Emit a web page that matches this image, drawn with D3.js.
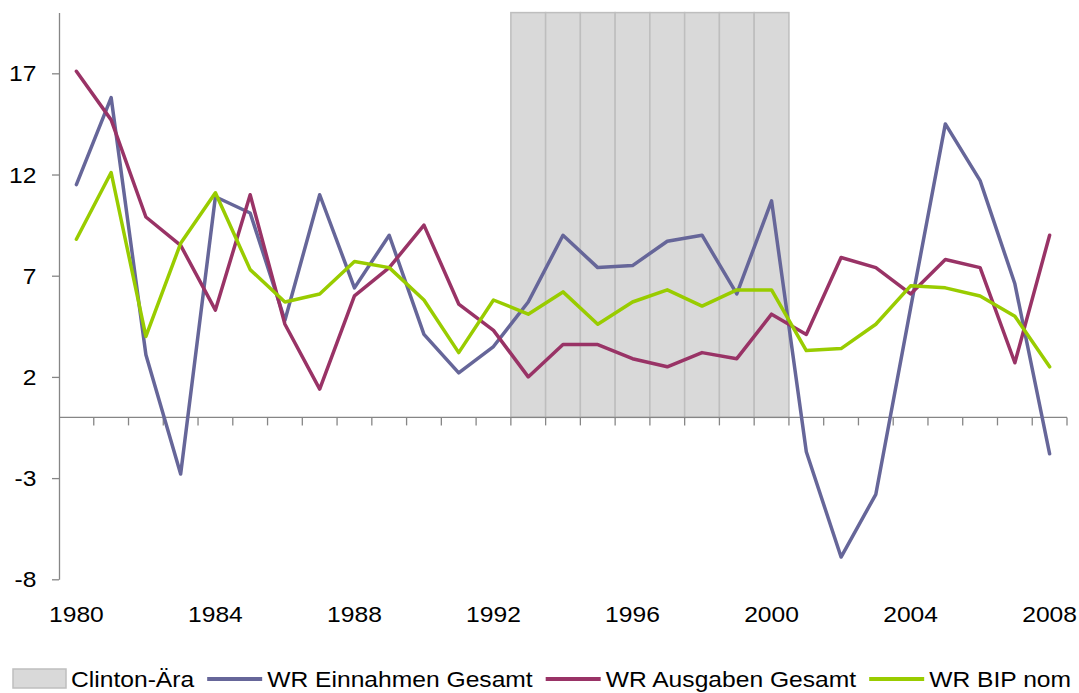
<!DOCTYPE html>
<html>
<head>
<meta charset="utf-8">
<script src="https://cdn.jsdelivr.net/npm/d3@7"></script>
<style>
  html, body { margin: 0; padding: 0; background: #fff; }
  svg { display: block; }
  text { font-family: "Liberation Sans", Arial, sans-serif; font-size: 22px; fill: #000; }
</style>
</head>
<body>
<svg id="chart" width="1079" height="693"></svg>
<script>
// ---- data ----
const years = [1980,1981,1982,1983,1984,1985,1986,1987,1988,1989,1990,1991,1992,1993,1994,
               1995,1996,1997,1998,1999,2000,2001,2002,2003,2004,2005,2006,2007,2008];
const einnahmen = [11.5, 15.8, 3.1, -2.8, 10.9, 10.1, 4.8, 11.0, 6.4, 9.0, 4.1, 2.2, 3.5, 5.7, 9.0,
                   7.4, 7.5, 8.7, 9.0, 6.1, 10.7, -1.7, -6.9, -3.8, 5.4, 14.5, 11.7, 6.6, -1.8];
const ausgaben  = [17.1, 14.7, 9.9, 8.5, 5.3, 11.0, 4.6, 1.4, 6.0, 7.4, 9.5, 5.6, 4.3, 2.0, 3.6,
                   3.6, 2.9, 2.5, 3.2, 2.9, 5.1, 4.1, 7.9, 7.4, 6.1, 7.8, 7.4, 2.7, 9.0];
const bip       = [8.8, 12.1, 4.0, 8.6, 11.1, 7.3, 5.7, 6.1, 7.7, 7.4, 5.8, 3.2, 5.8, 5.1, 6.2,
                   4.6, 5.7, 6.3, 5.5, 6.3, 6.3, 3.3, 3.4, 4.6, 6.5, 6.4, 6.0, 5.0, 2.5];
const clintonYears = [1993,1994,1995,1996,1997,1998,1999,2000];
const clintonValue = 20;
const yTicks = [-8, -3, 2, 7, 12, 17];
const xLabelYears = [1980,1984,1988,1992,1996,2000,2004,2008];
const seriesNames = ["Clinton-Ära", "WR Einnahmen Gesamt", "WR Ausgaben Gesamt", "WR BIP nom"];

// ---- styles ----
const colors = { clinton: "#D9D9D9", clintonStroke: "#BEBEBE", ein: "#666699", aus: "#993366", bip: "#99CC00" };
const axisColor = "#868686";
const SX = 1.12; // horizontal stretch of text as in the reference

const svg = d3.select("#chart");
const x = d3.scaleBand().domain(years).range([59, 1067]).padding(0);
const y = d3.scaleLinear().domain([-8, 20]).range([579.3, 12.6]);
const y0 = y(0);

// Clinton era bars
svg.append("g").selectAll("rect").data(clintonYears).join("rect")
  .attr("x", d => x(d))
  .attr("y", y(clintonValue))
  .attr("width", x.bandwidth())
  .attr("height", y(0) - y(clintonValue))
  .attr("fill", colors.clinton)
  .attr("stroke", colors.clintonStroke)
  .attr("stroke-width", 1.5);

// Y axis
const yAxis = svg.append("g").attr("transform", `translate(59,0)`)
  .call(d3.axisLeft(y).tickValues(yTicks).tickSize(7).tickSizeOuter(0).tickFormat(d => String(d)));
yAxis.select(".domain").attr("stroke", axisColor).attr("stroke-width", 1.3);
yAxis.selectAll(".tick line").attr("stroke", axisColor).attr("stroke-width", 1.3);
yAxis.selectAll(".tick text")
  .attr("x", null).attr("dy", "0.34em")
  .attr("transform", `translate(-22.5,0) scale(${SX},1)`)
  .style("font-size", "22px").style("font-family", '"Liberation Sans", Arial, sans-serif').attr("fill", "#000");
yAxis.attr("font-size", null).attr("font-family", null);

// X axis line + boundary ticks
const xg = svg.append("g");
xg.append("line").attr("x1", x.range()[0]).attr("x2", x.range()[1]).attr("y1", y0).attr("y2", y0)
  .attr("stroke", axisColor).attr("stroke-width", 1.3);
const boundaries = years.slice(1).map(d => x(d)).concat([x.range()[1]]);
xg.selectAll("line.tk").data(boundaries).join("line").attr("class", "tk")
  .attr("x1", d => d).attr("x2", d => d).attr("y1", y0).attr("y2", y0 + 8)
  .attr("stroke", axisColor).attr("stroke-width", 1.3);

// X labels
const xAxis = svg.append("g").attr("transform", `translate(0,${y0})`)
  .call(d3.axisBottom(x).tickValues(xLabelYears).tickSize(0).tickPadding(0));
xAxis.select(".domain").remove();
xAxis.selectAll(".tick text")
  .attr("y", null).attr("dy", null)
  .attr("transform", `translate(0,${622 - y0}) scale(${SX},1)`)
  .style("font-size", "22px").style("font-family", '"Liberation Sans", Arial, sans-serif').attr("fill", "#000");
xAxis.attr("font-size", null).attr("font-family", null);

// Lines
const line = d3.line().x((d, i) => x(years[i]) + x.bandwidth() / 2).y(d => y(d));
[[einnahmen, colors.ein], [ausgaben, colors.aus], [bip, colors.bip]].forEach(([data, c]) => {
  svg.append("path").datum(data).attr("d", line)
    .attr("fill", "none").attr("stroke", c).attr("stroke-width", 3.5)
    .attr("stroke-linejoin", "round").attr("stroke-linecap", "round");
});

// Legend
const lg = svg.append("g");
const legendColors = [colors.clinton, colors.ein, colors.aus, colors.bip];
let cx = 13;
const ly = 679;
seriesNames.forEach((name, i) => {
  if (i === 0) {
    lg.append("rect").attr("x", cx).attr("y", ly - 10).attr("width", 53).attr("height", 19)
      .attr("fill", legendColors[i]).attr("stroke", colors.clintonStroke).attr("stroke-width", 1.5);
  } else {
    lg.append("line").attr("x1", cx).attr("x2", cx + 55).attr("y1", ly).attr("y2", ly)
      .attr("stroke", legendColors[i]).attr("stroke-width", 4);
  }
  const tx = cx + (i === 0 ? 58 : 60);
  const t = lg.append("text").attr("transform", `translate(${tx},${ly + 8}) scale(${SX},1)`).text(name);
  const w = t.node().getComputedTextLength() * SX;
  cx = tx + w + 13;
});
</script>
</body>
</html>
